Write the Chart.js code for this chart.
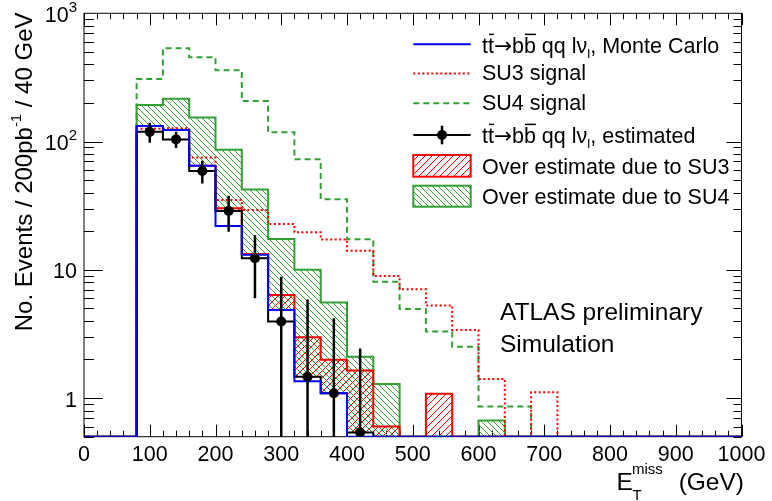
<!DOCTYPE html>
<html>
<head>
<meta charset="utf-8">
<script src="https://cdn.jsdelivr.net/npm/chart.js@4.4.1/dist/chart.umd.min.js"></script>
<style>
  html, body { margin: 0; padding: 0; background: #fff; }
  #wrap { width: 772px; height: 501px; }
</style>
</head>
<body>
<div id="wrap"><canvas id="met-chart" width="772" height="501"></canvas></div>
<script>
// E_T^miss bin edges in GeV (40 GeV bins)
const binEdges = [0, 40, 80, 120, 160, 200, 240, 280, 320, 360, 400, 440, 480, 520,
  560, 600, 640, 680, 720, 760, 800, 840, 880, 920, 960, 1000];

// events / 200 pb^-1 / 40 GeV, one entry per bin
const ttbarMC   = [0, 0, 132, 123, 64.9, 22.0, 13.1, 4.87, 1.35, 1.09, 0, 0, 0, 0, 0, 0, 0, 0, 0, 0, 0, 0, 0, 0, 0];
const ttbarEst  = [0, 0, 119, 104, 59, 28.8, 12.3, 3.95, 1.47, 1.09, 0.54, 0, 0, 0, 0, 0, 0, 0, 0, 0, 0, 0, 0, 0, 0];
const ttbarErr  = [0, 0, 21, 15, 12, 9, 6.3, 4.9, 4.4, 3.1, 1.9, 0, 0, 0, 0, 0, 0, 0, 0, 0, 0, 0, 0, 0, 0];
const su3Signal = [0, 0, 126, 127, 75, 35.1, 29.3, 22.8, 19.6, 17.2, 14.1, 8.96, 7.06, 5.26, 3.40, 1.41, 0, 1.11, 0, 0, 0, 0, 0, 0, 0];
const su4Signal = [0, 0, 308, 534, 454, 360, 207, 118, 72.8, 35.5, 17.3, 8.09, 4.96, 3.30, 2.51, 0.86, 0.86, 0, 0, 0, 0, 0, 0, 0, 0];
// estimate including signal contamination
const withSU3   = [0, 0, 125, 105, 60, 30.2, 13.3, 6.37, 2.98, 1.99, 1.64, 0.60, 0, 1.08, 0, 0, 0, 0, 0, 0, 0, 0, 0, 0, 0];
const withSU4   = [0, 0, 193, 216, 154, 86.5, 42.3, 17.4, 10.0, 5.55, 2.10, 1.29, 0, 0, 0, 0.67, 0, 0, 0, 0, 0, 0, 0, 0, 0];

const xTickValues = [0, 100, 200, 300, 400, 500, 600, 700, 800, 900, 1000];
const xTickLabels = ['0', '100', '200', '300', '400', '500', '600', '700', '800', '900', '1000'];
const yTickValues = [1, 10, 100, 1000];
const yTickLabels = [['1', ''], ['10', ''], ['10', '2'], ['10', '3']];

const Y_MIN = 0.5, Y_MAX = 1000;
const FONT = '"Liberation Sans", Arial, Helvetica, sans-serif';
const SYM_FONT = '"DejaVu Sans", sans-serif';
const BLUE = '#0000ff', RED = '#ff0000', GREEN = '#33a033';

const floorY = v => Math.max(v, Y_MIN);

// histogram -> points for a 'before' stepped line, last bin closed at the right edge
function steps(vals) {
  const pts = vals.map((v, i) => ({ x: binEdges[i], y: floorY(v) }));
  pts.push({ x: binEdges[vals.length], y: floorY(vals[vals.length - 1]) });
  return pts;
}

// hatched bands start on top of whichever of MC / estimate is higher
const bandBase = ttbarMC.map((v, i) => floorY(Math.max(v, ttbarEst[i])));
const centre = i => (binEdges[i] + binEdges[i + 1]) / 2;

function band(tops) {
  return tops
    .map((t, i) => (t > bandBase[i] ? { x: centre(i), y: [bandBase[i], t] } : null))
    .filter(Boolean);
}
const outline = tops => steps(tops.map((t, i) => Math.max(t, bandBase[i])));

const canvas = document.getElementById('met-chart');
const ctx = canvas.getContext('2d');

function hatch(color, dir, gap) {
  const c = document.createElement('canvas');
  c.width = c.height = gap;
  const g = c.getContext('2d');
  g.strokeStyle = color;
  g.lineWidth = 1;
  g.beginPath();
  if (dir > 0) {
    g.moveTo(-1, gap + 1); g.lineTo(gap + 1, -1);
    g.moveTo(-1, 1); g.lineTo(1, -1);
    g.moveTo(gap - 1, gap + 1); g.lineTo(gap + 1, gap - 1);
  } else {
    g.moveTo(-1, -1); g.lineTo(gap + 1, gap + 1);
    g.moveTo(gap - 1, -1); g.lineTo(gap + 1, 1);
    g.moveTo(-1, gap - 1); g.lineTo(1, gap + 1);
  }
  g.stroke();
  return ctx.createPattern(c, 'repeat');
}
const redHatch = hatch(RED, 1, 7);
const greenHatch = hatch(GREEN, -1, 6);

// text with sub/superscripts, overbars and symbols; parts = [text, mode]
function partFont(mode, size) {
  if (mode === 'sub' || mode === 'sup') return `${size * 0.62}px ${FONT}`;
  if (mode === 'sym') return `${size}px ${SYM_FONT}`;
  return `${size}px ${FONT}`;
}
function richWidth(c, parts, size) {
  let w = 0;
  for (const [t, mode] of parts) {
    c.font = partFont(mode, size);
    w += c.measureText(t).width;
  }
  return w;
}
function drawRich(c, parts, x, y, size) {
  let cx = x;
  c.textAlign = 'left';
  c.textBaseline = 'alphabetic';
  for (const [t, mode] of parts) {
    c.font = partFont(mode, size);
    const dy = mode === 'sub' ? size * 0.22 : mode === 'sup' ? -size * 0.42 : 0;
    c.fillText(t, cx, y + dy);
    const w = c.measureText(t).width;
    if (mode === 'bar') {
      c.save();
      c.lineWidth = 1.5;
      c.beginPath();
      c.moveTo(cx + 1, y - size * 0.88);
      c.lineTo(cx + w, y - size * 0.88);
      c.stroke();
      c.restore();
    }
    cx += w;
  }
}

const decayText = tail => [['t', ''], ['t', 'bar'], ['\u2192', 'sym'], ['b', ''], ['b', 'bar'],
  [' qq l\u03bd', ''], ['l', 'sub'], [tail, '']];

const framePlugin = {
  id: 'frame',
  beforeDatasetsDraw(chart) {
    const c = chart.ctx;
    const { left, right, top, bottom } = chart.chartArea;
    const xs = chart.scales.x, ys = chart.scales.y;
    c.save();
    c.strokeStyle = '#000';
    c.lineWidth = 1;
    c.strokeRect(left, top, right - left, bottom - top);
    c.beginPath();
    for (let v = 0; v <= 1000; v += 20) {
      const px = Math.round(xs.getPixelForValue(v)) + 0.5;
      const len = v % 100 === 0 ? 12 : 6;
      c.moveTo(px, bottom); c.lineTo(px, bottom - len);
      c.moveTo(px, top); c.lineTo(px, top + len);
    }
    for (let d = 0.1; d < Y_MAX; d *= 10) {
      for (let k = 1; k <= 9; k++) {
        const v = k * d;
        if (v < Y_MIN - 1e-9 || v > Y_MAX + 1e-9) continue;
        const py = Math.round(ys.getPixelForValue(v)) + 0.5;
        const major = k === 1;
        c.moveTo(left, py); c.lineTo(left + (major ? 19 : 10), py);
        c.moveTo(right, py); c.lineTo(right - (major ? 15 : 8), py);
      }
    }
    c.stroke();
    c.restore();
  },
  afterDatasetsDraw(chart) {
    // vertical error bars on the estimated points
    const c = chart.ctx;
    const xs = chart.scales.x, ys = chart.scales.y;
    c.save();
    c.strokeStyle = '#000';
    c.lineWidth = 2.5;
    c.beginPath();
    ttbarEst.forEach((v, i) => {
      if (v <= 0) return;
      const px = xs.getPixelForValue(centre(i));
      c.moveTo(px, ys.getPixelForValue(floorY(v - ttbarErr[i])));
      c.lineTo(px, ys.getPixelForValue(v + ttbarErr[i]));
    });
    c.stroke();
    c.restore();
  },
  afterDraw(chart) {
    const c = chart.ctx;
    const xs = chart.scales.x, ys = chart.scales.y;
    c.save();
    c.fillStyle = '#000';
    c.strokeStyle = '#000';

    // x tick labels
    c.font = `21.5px ${FONT}`;
    c.textAlign = 'center';
    c.textBaseline = 'alphabetic';
    xTickValues.forEach((v, i) => c.fillText(xTickLabels[i], xs.getPixelForValue(v), 460.5));

    // y tick labels, right aligned
    yTickValues.forEach((v, i) => {
      const [base, exp] = yTickLabels[i];
      const py = ys.getPixelForValue(v) + 8.5;
      c.font = `21.5px ${FONT}`;
      const wb = c.measureText(base).width;
      c.font = `15px ${FONT}`;
      const we = exp ? c.measureText(exp).width : 0;
      const x0 = 77 - wb - we;
      c.textAlign = 'left';
      c.font = `21.5px ${FONT}`;
      c.fillText(base, x0, py);
      if (exp) {
        c.font = `15px ${FONT}`;
        c.fillText(exp, x0 + wb, py - 10);
      }
    });

    // x title: E_T^miss (GeV)
    c.textAlign = 'left';
    c.font = `24.5px ${FONT}`;
    c.fillText('E', 616.5, 490);
    c.font = `15px ${FONT}`;
    c.fillText('miss', 632, 474);
    c.fillText('T', 632.5, 500);
    c.font = `24.5px ${FONT}`;
    c.textAlign = 'right';
    c.fillText('(GeV)', 744, 490);

    // y title, rotated
    c.save();
    c.translate(31.5, 12.5);
    c.rotate(-Math.PI / 2);
    const yTitle = [['No. Events / 200pb', ''], ['-1', 'sup'], [' / 40 GeV', '']];
    drawRich(c, yTitle, -richWidth(c, yTitle, 24), 0, 24);
    c.restore();

    // legend
    const ix0 = 413.3, ix1 = 470.7, tx = 482;
    c.lineWidth = 2;
    c.strokeStyle = BLUE;
    c.beginPath(); c.moveTo(ix0, 44.3); c.lineTo(ix1, 44.3); c.stroke();
    c.strokeStyle = RED;
    c.setLineDash([2, 2.5]);
    c.beginPath(); c.moveTo(ix0, 73.5); c.lineTo(ix1, 73.5); c.stroke();
    c.strokeStyle = GREEN;
    c.setLineDash([6, 4]);
    c.beginPath(); c.moveTo(ix0, 103.3); c.lineTo(ix1, 103.3); c.stroke();
    c.setLineDash([]);
    c.strokeStyle = '#000';
    c.beginPath(); c.moveTo(ix0, 135); c.lineTo(ix1, 135); c.stroke();
    c.lineWidth = 2.5;
    c.beginPath(); c.moveTo(442, 125.7); c.lineTo(442, 144.3); c.stroke();
    c.beginPath(); c.arc(442, 135, 5, 0, Math.PI * 2); c.fill();
    c.lineWidth = 2;
    c.fillStyle = redHatch;
    c.fillRect(ix0, 155, ix1 - ix0, 21.7);
    c.strokeStyle = RED;
    c.strokeRect(ix0, 155, ix1 - ix0, 21.7);
    c.fillStyle = greenHatch;
    c.fillRect(ix0, 185.7, ix1 - ix0, 21);
    c.strokeStyle = GREEN;
    c.strokeRect(ix0, 185.7, ix1 - ix0, 21);

    c.fillStyle = '#000';
    c.strokeStyle = '#000';
    drawRich(c, decayText(', Monte Carlo'), tx, 53.3, 21.5);
    drawRich(c, [['SU3 signal', '']], tx, 79.5, 21.5);
    drawRich(c, [['SU4 signal', '']], tx, 110, 21.5);
    drawRich(c, decayText(', estimated'), tx, 143.3, 21.5);
    drawRich(c, [['Over estimate due to SU3', '']], tx, 174, 21.5);
    drawRich(c, [['Over estimate due to SU4', '']], tx, 204, 21.5);

    // experiment label
    c.font = `24.5px ${FONT}`;
    c.textAlign = 'left';
    c.fillText('ATLAS preliminary', 500, 320);
    c.fillText('Simulation', 500, 352.3);
    c.restore();
  }
};

const stepLine = (label, data, color, order, extra = {}) => ({
  type: 'line', label, data, order,
  borderColor: color, borderWidth: 2, stepped: 'before',
  pointRadius: 0, fill: false, ...extra
});

new Chart(canvas, {
  type: 'line',
  data: {
    datasets: [
      {
        type: 'line', label: 'estimated', order: 0,
        data: ttbarEst.map((v, i) => ({ x: centre(i), y: v })).filter(p => p.y > 0),
        showLine: false, pointRadius: 5, pointBackgroundColor: '#000', pointBorderWidth: 0
      },
      stepLine('Monte Carlo', steps(ttbarMC), BLUE, 1),
      stepLine('estimated histogram', steps(ttbarEst), '#000', 2),
      stepLine('SU3 signal', steps(su3Signal), RED, 3, { borderDash: [2, 2.5] }),
      stepLine('SU4 signal', steps(su4Signal), GREEN, 4, { borderDash: [6, 4] }),
      stepLine('SU3 outline', outline(withSU3), RED, 5),
      stepLine('SU4 outline', outline(withSU4), GREEN, 6),
      {
        type: 'bar', label: 'Over estimate due to SU3', order: 7,
        data: band(withSU3), backgroundColor: redHatch, borderWidth: 0,
        barPercentage: 1, categoryPercentage: 1, grouped: false
      },
      {
        type: 'bar', label: 'Over estimate due to SU4', order: 8,
        data: band(withSU4), backgroundColor: greenHatch, borderWidth: 0,
        barPercentage: 1, categoryPercentage: 1, grouped: false
      }
    ]
  },
  options: {
    responsive: false,
    animation: false,
    devicePixelRatio: 1,
    layout: { padding: { left: 84, right: 30.5, top: 13.3, bottom: 64.3 } },
    scales: {
      x: { type: 'linear', min: 0, max: 1000, offset: false, display: false, ticks: { stepSize: 100 } },
      y: { type: 'logarithmic', min: Y_MIN, max: Y_MAX, beginAtZero: false, display: false }
    },
    plugins: { legend: { display: false }, tooltip: { enabled: false } },
    elements: { line: { tension: 0 } }
  },
  plugins: [framePlugin]
});
</script>
</body>
</html>
